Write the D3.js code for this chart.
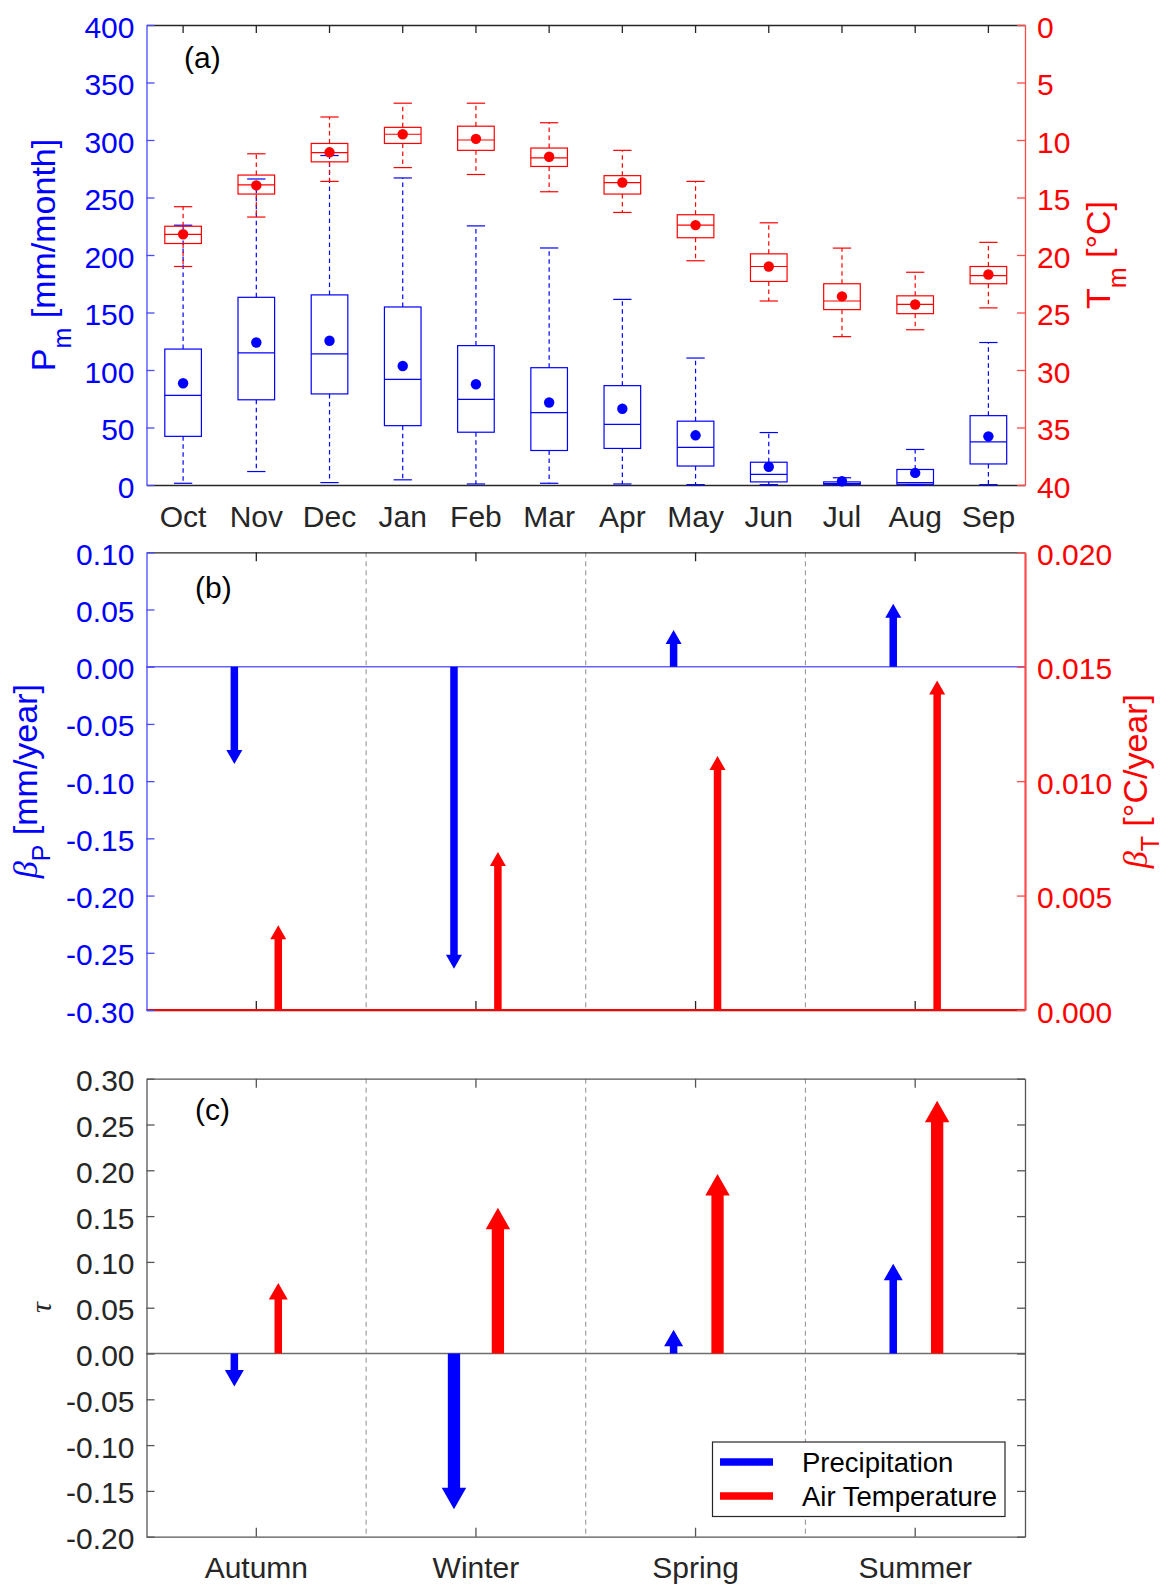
<!DOCTYPE html>
<html>
<head>
<meta charset="utf-8">
<script src="https://cdn.jsdelivr.net/npm/d3@7"></script>
<style>
  body { margin: 0; background: #fff; }
</style>
</head>
<body>
<svg id="fig"></svg>
<script>
// ---- Monthly statistics (hydrological year, October to September) ----
const months = ["Oct", "Nov", "Dec", "Jan", "Feb", "Mar", "Apr", "May", "Jun", "Jul", "Aug", "Sep"];

// Monthly precipitation P_m [mm/month]
const precipLow  = [1.5, 11.7, 2.1, 4.5, 0.9, 1.5, 0.9, 0.3, 0.3, 0.3, 0.0, 0.3];
const precipQ1   = [42.3, 74.1, 79.2, 51.6, 45.9, 30.0, 31.8, 16.5, 2.7, 0.6, 0.6, 18.3];
const precipMed  = [78.0, 114.9, 114.0, 91.8, 74.4, 63.0, 52.8, 32.7, 9.3, 1.2, 2.1, 37.5];
const precipQ3   = [118.2, 163.2, 165.3, 154.8, 121.2, 102.0, 86.4, 55.5, 19.8, 2.7, 13.5, 60.3];
const precipHigh = [225.9, 266.1, 286.5, 267.0, 225.3, 206.1, 161.4, 110.4, 45.6, 6.3, 30.9, 123.9];
const precipMean = [88.5, 123.9, 125.4, 103.5, 87.6, 71.7, 66.3, 43.2, 15.9, 3.3, 10.5, 42.3];

// Monthly air temperature T_m [°C]
const tempLow  = [15.8, 11.2, 8.0, 6.8, 6.8, 8.5, 10.9, 13.6, 17.2, 19.4, 21.5, 18.9];
const tempQ1   = [17.5, 13.05, 10.3, 8.9, 8.8, 10.7, 13.1, 16.5, 19.9, 22.5, 23.55, 21.0];
const tempMed  = [18.2, 13.9, 11.1, 9.5, 10.0, 11.55, 13.7, 17.4, 21.0, 24.0, 24.3, 21.8];
const tempQ3   = [19.0, 14.7, 11.9, 10.3, 10.9, 12.3, 14.7, 18.5, 22.3, 24.75, 25.1, 22.5];
const tempHigh = [21.0, 16.7, 13.6, 12.4, 13.0, 14.5, 16.3, 20.5, 24.0, 27.1, 26.5, 24.6];
const tempMean = [18.2, 13.95, 11.07, 9.5, 9.9, 11.46, 13.7, 17.4, 21.0, 23.6, 24.3, 21.7];

// ---- Seasonal trends ----
const seasons = ["Autumn", "Winter", "Spring", "Summer"];
const betaP = [-0.085, -0.264, 0.032, 0.055];      // Sen's slope, precipitation [mm/year]
const betaT = [0.0037, 0.0069, 0.0111, 0.0144];    // Sen's slope, air temperature [°C/year]
const tauP  = [-0.036, -0.170, 0.026, 0.098];      // Kendall's tau, precipitation
const tauT  = [0.077, 0.159, 0.196, 0.276];        // Kendall's tau, air temperature

// ---- Tick values ----
const ticksP     = [0, 50, 100, 150, 200, 250, 300, 350, 400];
const ticksT     = [0, 5, 10, 15, 20, 25, 30, 35, 40];
const ticksBetaP = [-0.30, -0.25, -0.20, -0.15, -0.10, -0.05, 0.00, 0.05, 0.10];
const ticksBetaT = [0.000, 0.005, 0.010, 0.015, 0.020];
const ticksTau   = [-0.20, -0.15, -0.10, -0.05, 0.00, 0.05, 0.10, 0.15, 0.20, 0.25, 0.30];

// ---- Layout & style ----
const W = 1171, H = 1585;
const L = 146.5, R = 1025;
const BLUE = "#0000ff", RED = "#ff0000", INK = "#262626";
const AX_BLUE = "#4a4aff", AX_RED = "#ff4a4a";
const SANS = "'Liberation Sans', Arial, Helvetica, sans-serif";
const SERIF = "'Liberation Serif', 'DejaVu Serif', serif";
const TICK_FS = 30, LABEL_FS = 34;

const clean = d => (Math.abs(d) < 1e-9 ? 0 : d);
const fmt2 = d => clean(d).toFixed(2);
const fmt3 = d => clean(d).toFixed(3);

const svg = d3.select("#fig").attr("width", W).attr("height", H);
svg.append("rect").attr("width", W).attr("height", H).attr("fill", "#fff");

function styleAxis(g, color, textColor, sw = 1.3) {
  g.attr("font-family", SANS).attr("font-size", TICK_FS);
  g.select(".domain").attr("stroke", color).attr("stroke-width", sw);
  g.selectAll(".tick line").attr("stroke", color).attr("stroke-width", 1.3);
  g.selectAll(".tick text").attr("fill", textColor);
  return g;
}

// Filled arrow (shaft + triangular head) from y0 to y1 at x
function arrowPath(x, y0, y1, sw, hw, hl) {
  const dir = y1 < y0 ? -1 : 1;
  const len = Math.abs(y1 - y0);
  const h = Math.min(hl, len);
  const yb = y1 - dir * h;
  return `M${x - sw / 2},${y0} L${x - sw / 2},${yb} L${x - hw / 2},${yb} L${x},${y1} ` +
         `L${x + hw / 2},${yb} L${x + sw / 2},${yb} L${x + sw / 2},${y0} Z`;
}

// Rotated axis title with a subscript
function axisTitle(x, y, color, parts) {
  const t = svg.append("text")
    .attr("transform", `translate(${x},${y}) rotate(-90)`)
    .attr("text-anchor", "middle")
    .attr("fill", color)
    .attr("font-family", SANS)
    .attr("font-size", LABEL_FS);
  parts.forEach(p => {
    const s = t.append("tspan").text(p.text);
    if (p.italicSerif) s.attr("font-family", SERIF).attr("font-style", "italic");
    if (p.size) s.attr("font-size", p.size);
    if (p.dy) s.attr("dy", p.dy);
  });
  return t;
}

/* ======================= Panel (a): monthly box plots ======================= */
const A = { top: 25, bottom: 485 };
const xA = d3.scaleBand().domain(months).range([L, R]);
const yP = d3.scaleLinear().domain([0, 400]).range([A.bottom, A.top]);
const yT = d3.scaleLinear().domain([0, 40]).range([A.top, A.bottom]);
const gA = svg.append("g");

// frame: top and bottom
styleAxis(gA.append("g").attr("transform", `translate(0,${A.top})`)
  .call(d3.axisTop(xA).tickSize(-8).tickSizeOuter(0).tickFormat("")), INK, INK);
styleAxis(gA.append("g").attr("transform", `translate(0,${A.bottom})`)
  .call(d3.axisBottom(xA).tickSize(0).tickSizeOuter(0).tickPadding(21)), INK, INK);

function drawBoxes(g, stats, y, color) {
  const bw = xA.bandwidth() * 0.5, cw = bw * 0.5;
  const grp = g.selectAll(null).data(stats).join("g")
    .attr("transform", d => `translate(${xA(d.m) + xA.bandwidth() / 2},0)`)
    .attr("stroke", color).attr("fill", "none").attr("stroke-width", 1.2);
  grp.append("line").attr("y1", d => y(d.q3)).attr("y2", d => y(d.hi)).attr("stroke-dasharray", "4.5,3.5");
  grp.append("line").attr("y1", d => y(d.q1)).attr("y2", d => y(d.lo)).attr("stroke-dasharray", "4.5,3.5");
  grp.append("line").attr("x1", -cw / 2).attr("x2", cw / 2).attr("y1", d => y(d.hi)).attr("y2", d => y(d.hi));
  grp.append("line").attr("x1", -cw / 2).attr("x2", cw / 2).attr("y1", d => y(d.lo)).attr("y2", d => y(d.lo));
  grp.append("rect").attr("x", -bw / 2).attr("width", bw)
    .attr("y", d => Math.min(y(d.q1), y(d.q3)))
    .attr("height", d => Math.abs(y(d.q1) - y(d.q3)));
  grp.append("line").attr("x1", -bw / 2).attr("x2", bw / 2).attr("y1", d => y(d.med)).attr("y2", d => y(d.med));
  grp.append("circle").attr("r", 5.2).attr("cy", d => y(d.mean)).attr("fill", color).attr("stroke", "none");
}

const precipStats = months.map((m, i) => ({ m, lo: precipLow[i], q1: precipQ1[i], med: precipMed[i], q3: precipQ3[i], hi: precipHigh[i], mean: precipMean[i] }));
const tempStats = months.map((m, i) => ({ m, lo: tempLow[i], q1: tempQ1[i], med: tempMed[i], q3: tempQ3[i], hi: tempHigh[i], mean: tempMean[i] }));
drawBoxes(gA.append("g"), precipStats, yP, BLUE);
drawBoxes(gA.append("g"), tempStats, yT, RED);

styleAxis(gA.append("g").attr("transform", `translate(${L},0)`)
  .call(d3.axisLeft(yP).tickValues(ticksP).tickSize(-8).tickSizeOuter(0).tickPadding(12)), AX_BLUE, BLUE)
  .selectAll(".tick text").attr("dy", "0.4em");
styleAxis(gA.append("g").attr("transform", `translate(${R},0)`)
  .call(d3.axisRight(yT).tickValues(ticksT).tickSize(-8).tickSizeOuter(0).tickPadding(12)), AX_RED, RED)
  .selectAll(".tick text").attr("dy", "0.4em");

svg.append("text").attr("x", 184).attr("y", 68).text("(a)")
  .attr("font-family", SANS).attr("font-size", 30).attr("fill", "#000");

axisTitle(55, (A.top + A.bottom) / 2, BLUE, [
  { text: "P" }, { text: "m", size: 25, dy: 16 }, { text: " [mm/month]", dy: -16 }
]);
axisTitle(1110, (A.top + A.bottom) / 2, RED, [
  { text: "T" }, { text: "m", size: 25, dy: 16 }, { text: " [°C]", dy: -16 }
]);

/* ======================= Panel (b): Sen's slope ======================= */
const B = { top: 552.3, bottom: 1010 };
const xS = d3.scaleBand().domain(seasons).range([L, R]);
const yBP = d3.scaleLinear().domain([-0.3, 0.1]).range([B.bottom, B.top]);
const yBT = d3.scaleLinear().domain([0, 0.02]).range([B.bottom, B.top]);
const gB = svg.append("g");
const off = xS.bandwidth() * 0.1;
const cx = s => xS(s) + xS.bandwidth() / 2;

// season dividers
gB.selectAll(null).data(seasons.slice(1)).join("line")
  .attr("x1", d => xS(d)).attr("x2", d => xS(d)).attr("y1", B.top).attr("y2", B.bottom)
  .attr("stroke", "#8c8c8c").attr("stroke-width", 1).attr("stroke-dasharray", "5,4");

styleAxis(gB.append("g").attr("transform", `translate(0,${B.top})`)
  .call(d3.axisTop(xS).tickSize(-9).tickSizeOuter(0).tickFormat("")), INK, INK);
styleAxis(gB.append("g").attr("transform", `translate(0,${B.bottom})`)
  .call(d3.axisBottom(xS).tickSize(-9).tickSizeOuter(0).tickFormat("")), INK, INK);

// zero line of the precipitation axis
gB.append("line").attr("x1", L).attr("x2", R).attr("y1", yBP(0)).attr("y2", yBP(0))
  .attr("stroke", "#6464ff").attr("stroke-width", 1.6);
// zero line of the temperature axis
gB.append("line").attr("x1", L).attr("x2", R).attr("y1", yBT(0)).attr("y2", yBT(0))
  .attr("stroke", RED).attr("stroke-width", 2);

gB.selectAll(null).data(seasons).join("path")
  .attr("d", (s, i) => arrowPath(cx(s) - off, yBP(0), yBP(betaP[i]), 7.5, 16, 14))
  .attr("fill", BLUE);
gB.selectAll(null).data(seasons).join("path")
  .attr("d", (s, i) => arrowPath(cx(s) + off, yBT(0), yBT(betaT[i]), 7.5, 16, 14))
  .attr("fill", RED);

styleAxis(gB.append("g").attr("transform", `translate(${L},0)`)
  .call(d3.axisLeft(yBP).tickValues(ticksBetaP).tickFormat(fmt2).tickSize(-8).tickSizeOuter(0).tickPadding(12)), AX_BLUE, BLUE)
  .selectAll(".tick text").attr("dy", "0.4em");
styleAxis(gB.append("g").attr("transform", `translate(${R},0)`)
  .call(d3.axisRight(yBT).tickValues(ticksBetaT).tickFormat(fmt3).tickSize(-8).tickSizeOuter(0).tickPadding(12)), AX_RED, RED, 2.2)
  .selectAll(".tick text").attr("dy", "0.4em");

svg.append("text").attr("x", 195).attr("y", 598).text("(b)")
  .attr("font-family", SANS).attr("font-size", 30).attr("fill", "#000");

axisTitle(37, (B.top + B.bottom) / 2, BLUE, [
  { text: "β", italicSerif: true }, { text: "P", size: 25, dy: 13 }, { text: " [mm/year]", dy: -13 }
]);
axisTitle(1147, (B.top + B.bottom) / 2, RED, [
  { text: "β", italicSerif: true }, { text: "T", size: 25, dy: 12 }, { text: " [°C/year]", dy: -12 }
]);

/* ======================= Panel (c): Kendall's tau ======================= */
const C = { top: 1078.7, bottom: 1536.7 };
const yC = d3.scaleLinear().domain([-0.2, 0.3]).range([C.bottom, C.top]);
const gC = svg.append("g");

gC.selectAll(null).data(seasons.slice(1)).join("line")
  .attr("x1", d => xS(d)).attr("x2", d => xS(d)).attr("y1", C.top).attr("y2", C.bottom)
  .attr("stroke", "#8c8c8c").attr("stroke-width", 1).attr("stroke-dasharray", "5,4");

gC.append("line").attr("x1", L).attr("x2", R).attr("y1", yC(0)).attr("y2", yC(0))
  .attr("stroke", "#6e6e6e").attr("stroke-width", 1.5);

styleAxis(gC.append("g").attr("transform", `translate(0,${C.top})`)
  .call(d3.axisTop(xS).tickSize(-9).tickSizeOuter(0).tickFormat("")), "#555", INK);
styleAxis(gC.append("g").attr("transform", `translate(0,${C.bottom})`)
  .call(d3.axisBottom(xS).tickSize(-9).tickSizeOuter(0).tickPadding(20.5)), "#555", INK);
styleAxis(gC.append("g").attr("transform", `translate(${L},0)`)
  .call(d3.axisLeft(yC).tickValues(ticksTau).tickFormat(fmt2).tickSize(-8).tickSizeOuter(0).tickPadding(12)), "#555", INK)
  .selectAll(".tick text").attr("dy", "0.4em");
styleAxis(gC.append("g").attr("transform", `translate(${R},0)`)
  .call(d3.axisRight(yC).tickValues(ticksTau).tickFormat("").tickSize(-8).tickSizeOuter(0)), "#555", INK);

// arrows: strong trends drawn heavier
const STRONG = 0.12;
function tauArrow(x, v) {
  const big = Math.abs(v) >= STRONG;
  return big ? arrowPath(x, yC(0), yC(v), 12.3, 24.5, 21.5)
             : arrowPath(x, yC(0), yC(v), 7.5, 19, 16.5);
}
gC.selectAll(null).data(seasons).join("path")
  .attr("d", (s, i) => tauArrow(cx(s) - off, tauP[i])).attr("fill", BLUE);
gC.selectAll(null).data(seasons).join("path")
  .attr("d", (s, i) => tauArrow(cx(s) + off, tauT[i])).attr("fill", RED);

svg.append("text").attr("x", 195).attr("y", 1120).text("(c)")
  .attr("font-family", SANS).attr("font-size", 30).attr("fill", "#000");

svg.append("text")
  .attr("transform", `translate(51,${(C.top + C.bottom) / 2}) rotate(-90)`)
  .attr("text-anchor", "middle").attr("fill", INK)
  .attr("font-family", SERIF).attr("font-style", "italic").attr("font-size", 30)
  .text("τ");

// legend
const legend = gC.append("g");
legend.append("rect").attr("x", 712.5).attr("y", 1442).attr("width", 292.5).attr("height", 74.5)
  .attr("fill", "#fff").attr("stroke", INK).attr("stroke-width", 1.2);
const legendItems = [{ name: "Precipitation", color: BLUE }, { name: "Air Temperature", color: RED }];
legend.selectAll(null).data(legendItems).join("line")
  .attr("x1", 720).attr("x2", 773)
  .attr("y1", (d, i) => 1462 + i * 34).attr("y2", (d, i) => 1462 + i * 34)
  .attr("stroke", d => d.color).attr("stroke-width", 7.5);
legend.selectAll(null).data(legendItems).join("text")
  .attr("x", 802).attr("y", (d, i) => 1472 + i * 34)
  .attr("font-family", SANS).attr("font-size", 27.5).attr("fill", "#000")
  .text(d => d.name);
</script>
</body>
</html>
